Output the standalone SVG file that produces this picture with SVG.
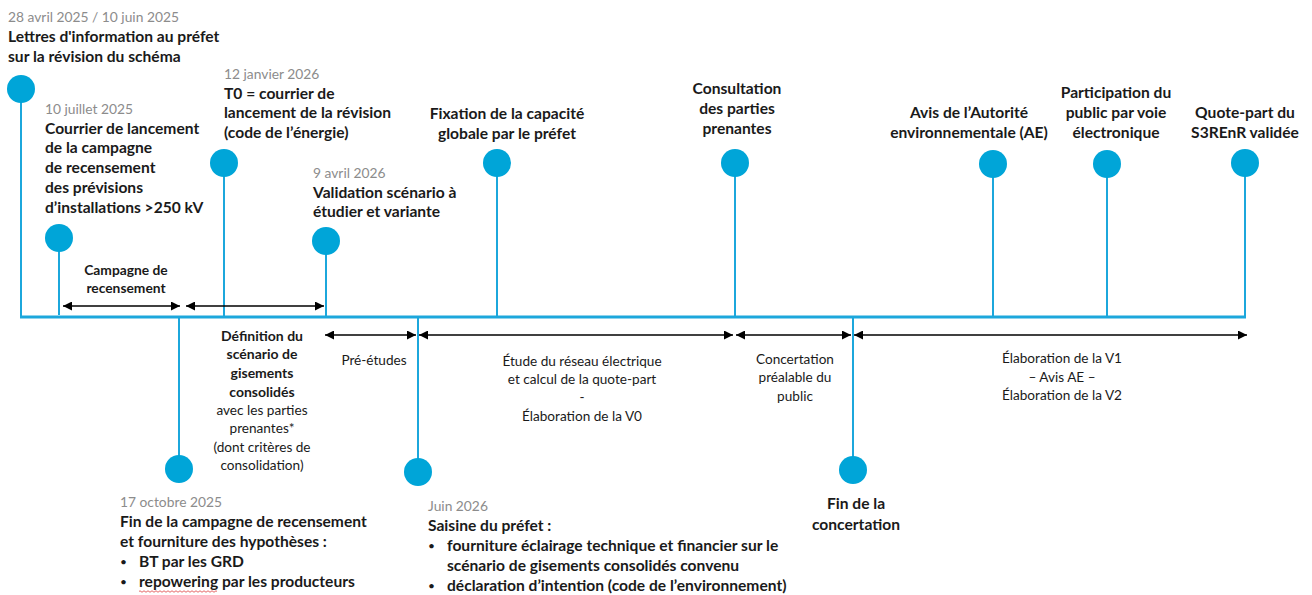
<svg xmlns="http://www.w3.org/2000/svg" width="1312" height="595" viewBox="0 0 1312 595">
  <style>
    text { font-family: Lato, "Open Sans", "Liberation Sans", sans-serif; fill: #1a1a1a; }
    .date { font-size: 13.8px; fill: #8c8c8c; }
    .title { font-size: 15.6px; font-weight: bold; }
    .bullet { font-size: 12px; font-weight: normal; }
    .mid { text-anchor: middle; }
    .small { font-size: 13.6px; }
    .smallb { font-size: 14px; font-weight: bold; }
    .tag { font-size: 13.8px; font-weight: bold; }
    .dot { fill: #00a5d8; }
    .stem { stroke: #1ca7dc; stroke-width: 2; fill: none; }
    .axis { stroke: #1ca7dc; stroke-width: 3; fill: none; }
    .span { stroke: #000; stroke-width: 1.5; fill: none; marker-start: url(#head); marker-end: url(#head); }
  </style>
  <defs>
    <marker id="head" viewBox="0 0 10 10" refX="10" refY="5" markerWidth="6" markerHeight="6" orient="auto-start-reverse">
      <path d="M0,0 L10,5 L0,10 z" fill="#000"/>
    </marker>
  </defs>

  <rect width="1312" height="595" fill="#fff"/>

  <!-- timeline axis, stems and duration spans -->
  <g id="connectors">
    <line class="axis" x1="20" y1="317" x2="1246" y2="317"/>
    <line class="stem" x1="21" y1="89" x2="21" y2="317"/>
    <line class="stem" x1="59" y1="238" x2="59" y2="315"/>
    <line class="stem" x1="224" y1="163" x2="224" y2="317"/>
    <line class="stem" x1="326" y1="241" x2="326" y2="317"/>
    <line class="stem" x1="497" y1="163" x2="497" y2="317"/>
    <line class="stem" x1="735" y1="163" x2="735" y2="317"/>
    <line class="stem" x1="993" y1="164" x2="993" y2="317"/>
    <line class="stem" x1="1107" y1="164" x2="1107" y2="317"/>
    <line class="stem" x1="1245" y1="163" x2="1245" y2="317"/>
    <line class="stem" x1="179" y1="317" x2="179" y2="469"/>
    <line class="stem" x1="418" y1="317" x2="418" y2="472"/>
    <line class="stem" x1="853" y1="317" x2="853" y2="470"/>

    <line class="span" x1="63" y1="306" x2="180" y2="306"/>
    <line class="span" x1="186" y1="306" x2="324" y2="306"/>
    <line class="span" x1="325" y1="335" x2="416" y2="335"/>
    <line class="span" x1="419" y1="335" x2="733" y2="335"/>
    <line class="span" x1="736" y1="335" x2="851" y2="335"/>
    <line class="span" x1="854" y1="335" x2="1247" y2="335"/>
  </g>

  <!-- milestones above the axis -->
  <g id="lettres-information">
    <circle class="dot" cx="21" cy="89" r="14"/>
    <text class="date" x="8" y="22">28 avril 2025 / 10 juin 2025</text>
    <text class="title" x="8" y="42">Lettres d'information au préfet</text>
    <text class="title" x="8" y="62">sur la révision du schéma</text>
  </g>

  <g id="courrier-lancement-campagne">
    <circle class="dot" cx="59" cy="238" r="14"/>
    <text class="date" x="45" y="114">10 juillet 2025</text>
    <text class="title" x="45" y="134">Courrier de lancement</text>
    <text class="title" x="45" y="153">de la campagne</text>
    <text class="title" x="45" y="173">de recensement</text>
    <text class="title" x="45" y="193">des prévisions</text>
    <text class="title" x="45" y="213">d’installations &gt;250 kV</text>
  </g>

  <g id="t0-lancement-revision">
    <circle class="dot" cx="224" cy="163" r="14"/>
    <text class="date" x="224" y="79">12 janvier 2026</text>
    <text class="title" x="224" y="99">T0 = courrier de</text>
    <text class="title" x="224" y="118">lancement de la révision</text>
    <text class="title" x="224" y="138">(code de l’énergie)</text>
  </g>

  <g id="validation-scenario">
    <circle class="dot" cx="326" cy="241" r="14"/>
    <text class="date" x="313" y="178">9 avril 2026</text>
    <text class="title" x="313" y="198">Validation scénario à</text>
    <text class="title" x="313" y="217">étudier et variante</text>
  </g>

  <g id="fixation-capacite">
    <circle class="dot" cx="497" cy="163" r="14"/>
    <text class="title mid" x="507" y="119">Fixation de la capacité</text>
    <text class="title mid" x="507" y="139">globale par le préfet</text>
  </g>

  <g id="consultation-parties">
    <circle class="dot" cx="735" cy="163" r="14"/>
    <text class="title mid" x="737" y="94">Consultation</text>
    <text class="title mid" x="737" y="114">des parties</text>
    <text class="title mid" x="737" y="134">prenantes</text>
  </g>

  <g id="avis-ae">
    <circle class="dot" cx="993" cy="164" r="14"/>
    <text class="title mid" x="969" y="118">Avis de l’Autorité</text>
    <text class="title mid" x="969" y="138">environnementale (AE)</text>
  </g>

  <g id="participation-public">
    <circle class="dot" cx="1107" cy="164" r="14"/>
    <text class="title mid" x="1116" y="98">Participation du</text>
    <text class="title mid" x="1116" y="118">public par voie</text>
    <text class="title mid" x="1116" y="138">électronique</text>
  </g>

  <g id="quote-part-validee">
    <circle class="dot" cx="1245" cy="163" r="14"/>
    <text class="title mid" x="1245" y="118">Quote-part du</text>
    <text class="title mid" x="1245" y="138">S3REnR validée</text>
  </g>

  <!-- milestones below the axis -->
  <g id="fin-campagne">
    <circle class="dot" cx="179" cy="469" r="14"/>
    <text class="date" x="120" y="507">17 octobre 2025</text>
    <text class="title" x="120" y="527">Fin de la campagne de recensement</text>
    <text class="title" x="120" y="547">et fourniture des hypothèses :</text>
    <text class="title bullet" x="120" y="566">•</text>
    <text class="title" x="139" y="567">BT par les GRD</text>
    <text class="title bullet" x="120" y="586">•</text>
    <text class="title" x="139" y="587">repowering par les producteurs</text>
    <path d="M139,591.5 q1,-1.5 2,0 t2,0 t2,0 t2,0 t2,0 t2,0 t2,0 t2,0 t2,0 t2,0 t2,0 t2,0 t2,0 t2,0 t2,0 t2,0 t2,0 t2,0 t2,0 t2,0 t2,0 t2,0 t2,0 t2,0 t2,0 t2,0 t2,0 t2,0 t2,0 t2,0 t2,0 t2,0 t2,0 t2,0 t2,0 t2,0 t2,0 t2,0 t2,0" fill="none" stroke="#e04040" stroke-width="0.8"/>
  </g>

  <g id="saisine-prefet">
    <circle class="dot" cx="418" cy="472" r="14"/>
    <text class="date" x="428" y="511">Juin 2026</text>
    <text class="title" x="428" y="531">Saisine du préfet :</text>
    <text class="title bullet" x="428" y="550">•</text>
    <text class="title" x="447" y="551">fourniture éclairage technique et financier sur le</text>
    <text class="title" x="447" y="571">scénario de gisements consolidés convenu</text>
    <text class="title bullet" x="428" y="590">•</text>
    <text class="title" x="447" y="591">déclaration d’intention (code de l’environnement)</text>
  </g>

  <g id="fin-concertation">
    <circle class="dot" cx="853" cy="470" r="14"/>
    <text class="title mid" x="856" y="509">Fin de la</text>
    <text class="title mid" x="856" y="530">concertation</text>
  </g>

  <!-- labels of the duration spans -->
  <g id="campagne-recensement">
    <text class="tag mid" x="126" y="275">Campagne de</text>
    <text class="tag mid" x="126" y="293">recensement</text>
  </g>

  <g id="definition-scenario">
    <text class="smallb mid" x="262" y="341">Définition du</text>
    <text class="smallb mid" x="262" y="359">scénario de</text>
    <text class="smallb mid" x="262" y="378">gisements</text>
    <text class="smallb mid" x="262" y="397">consolidés</text>
    <text class="small mid" x="262" y="415">avec les parties</text>
    <text class="small mid" x="262" y="433">prenantes*</text>
    <text class="small mid" x="262" y="452">(dont critères de</text>
    <text class="small mid" x="262" y="470">consolidation)</text>
  </g>

  <g id="pre-etudes">
    <text class="small mid" x="374" y="365">Pré-études</text>
  </g>

  <g id="etude-reseau">
    <text class="small mid" x="582" y="366">Étude du réseau électrique</text>
    <text class="small mid" x="582" y="384">et calcul de la quote-part</text>
    <text class="small mid" x="582" y="402">-</text>
    <text class="small mid" x="582" y="421">Élaboration de la V0</text>
  </g>

  <g id="concertation-prealable">
    <text class="small mid" x="795" y="364">Concertation</text>
    <text class="small mid" x="795" y="382">préalable du</text>
    <text class="small mid" x="795" y="401">public</text>
  </g>

  <g id="elaboration-v1-v2">
    <text class="small mid" x="1062" y="363">Élaboration de la V1</text>
    <text class="small mid" x="1062" y="382">– Avis AE –</text>
    <text class="small mid" x="1062" y="400">Élaboration de la V2</text>
  </g>
</svg>
